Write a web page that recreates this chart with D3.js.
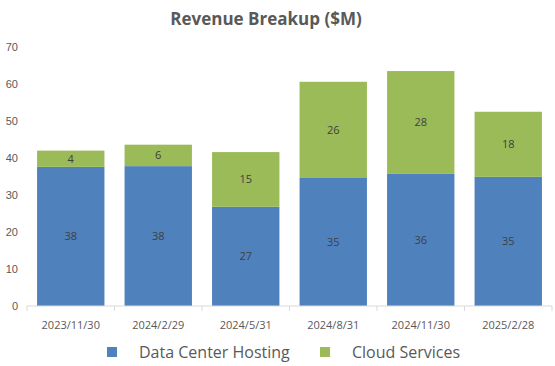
<!DOCTYPE html>
<html>
<head>
  <meta charset="utf-8">
  <title>Revenue Breakup</title>
  <script src="https://d3js.org/d3.v7.min.js"></script>
<style type="text/css">
body { margin: 0; background: #fff; font-family: "Open Sans", sans-serif; }
.tick text { fill: #595959; font-size: 11px; }
.lbl { fill: #404040; font-size: 11px; }
</style>
</head>
<body>
<svg id="chart" width="555" height="366"></svg>
<script type="text/javascript">

let categories = ['2023/11/30', '2024/2/29', '2024/5/31', '2024/8/31', '2024/11/30', '2025/2/28'];
let hosting = [37.6, 37.8, 26.8, 34.6, 35.7, 34.9];
let cloud = [4.4, 5.8, 14.8, 26.0, 27.8, 17.6];
let seriesNames = ['Data Center Hosting', 'Cloud Services'];
let colors = ['#4f81bd', '#9bbb59'];
let yTicks = [0, 10, 20, 30, 40, 50, 60, 70];

let svg = d3.select('#chart');
let margin = {left: 27, right: 3, top: 47, bottom: 60};
let w = 555, h = 366;

let x = d3.scaleBand().domain(categories)
  .range([margin.left, w - margin.right]).paddingInner(0.23).paddingOuter(0.115);
let y = d3.scaleLinear().domain([0, 70]).range([h - margin.bottom, margin.top]);

let rows = categories.map((c, i) => ({cat: c, hosting: hosting[i], cloud: cloud[i]}));
let stacked = d3.stack().keys(['hosting', 'cloud'])(rows);

// title
svg.append('text')
  .attr('x', 266).attr('y', 25)
  .attr('text-anchor', 'middle')
  .style('font-size', '17px').style('font-weight', 'bold').style('fill', '#595959')
  .text('Revenue Breakup ($M)');

// y axis labels only
svg.append('g')
  .attr('transform', 'translate(' + 18 + ',0)')
  .call(d3.axisLeft(y).tickValues(yTicks).tickSize(0).tickPadding(0))
  .call(g => g.select('.domain').remove())
  .selectAll('text').attr('text-anchor', 'end');

// bars
let groups = svg.append('g').selectAll('g')
  .data(stacked).enter().append('g')
  .attr('fill', (d, i) => colors[i]);

groups.selectAll('rect')
  .data(d => d).enter().append('rect')
  .attr('x', d => x(d.data.cat))
  .attr('width', x.bandwidth())
  .attr('y', d => y(d[1]))
  .attr('height', d => y(d[0]) - y(d[1]));

groups.selectAll('text')
  .data(d => d).enter().append('text')
  .attr('class', 'lbl')
  .attr('x', d => x(d.data.cat) + x.bandwidth() / 2)
  .attr('y', d => (y(d[0]) + y(d[1])) / 2 + 4)
  .attr('text-anchor', 'middle')
  .text(d => d3.format('.0f')(d[1] - d[0]));

// x axis with ticks between categories
let xAxis = svg.append('g').attr('transform', 'translate(0,' + (h - margin.bottom) + ')');
xAxis.append('line')
  .attr('x1', margin.left).attr('x2', w - margin.right)
  .attr('stroke', '#d9d9d9');
let step = x.step();
let bounds = categories.map(c => x(c) - x.paddingOuter() * step).concat([w - margin.right]);
xAxis.selectAll('line.tk').data(bounds).enter().append('line')
  .attr('class', 'tk')
  .attr('x1', d => d).attr('x2', d => d)
  .attr('y1', 0).attr('y2', 5)
  .attr('stroke', '#d9d9d9');
xAxis.selectAll('text').data(categories).enter().append('text')
  .attr('x', d => x(d) + x.bandwidth() / 2)
  .attr('y', 23)
  .attr('text-anchor', 'middle')
  .style('fill', '#595959').style('font-size', '11px')
  .text(d => d);

// legend
let legendX = [107, 320];
let leg = svg.append('g').selectAll('g').data(seriesNames).enter().append('g')
  .attr('transform', (d, i) => 'translate(' + legendX[i] + ',347)');
leg.append('rect').attr('width', 10).attr('height', 10).attr('fill', (d, i) => colors[i]);
leg.append('text')
  .attr('x', 32).attr('y', 11)
  .style('font-size', '16px').style('fill', '#595959')
  .text(d => d);

</script>
</body>
</html>
